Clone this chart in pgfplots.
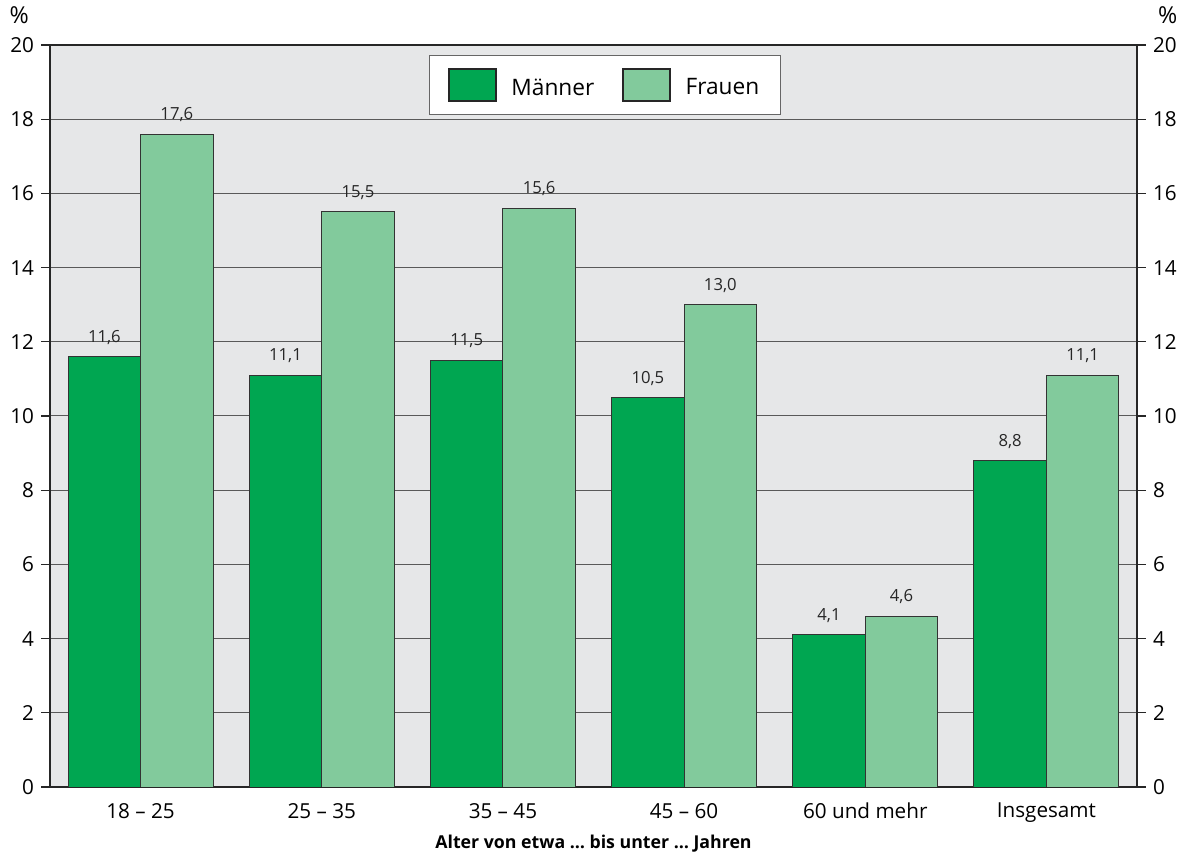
\documentclass[border=0pt]{standalone}
\usepackage{pgfplots}
\pgfplotsset{compat=1.18}
\usepackage{fontspec}
\setmainfont{Open Sans}
\definecolor{dgreen}{RGB}{0,166,81}
\definecolor{lgreen}{RGB}{130,202,156}
\definecolor{bggray}{RGB}{230,231,232}
\begin{document}
\begin{tikzpicture}
\begin{axis}[
  name=main,
  scale only axis, width=815.25pt, height=556.5pt,
  at={(0,0)}, anchor=south west,
  xmin=-0.5, xmax=5.5, ymin=0, ymax=20,
  axis background/.style={fill=bggray},
  axis line style={black!85, line width=0.8pt},
  ytick={0,2,...,20},
  ymajorgrids, grid style={black!65, line width=0.75pt},
  tick align=outside, major tick length=6.5pt,
  ytick pos=both, yticklabel pos=left,
  ytick style={black!85, line width=0.8pt},
  xtick={0,...,5}, xtick style={draw=none},
  xticklabels={18 -- 25, 25 -- 35, 35 -- 45, 45 -- 60, 60 und mehr, Insgesamt},
  /pgf/number format/assume math mode=true,
  /pgf/number format/.cd, use comma, fixed, fixed zerofill, precision=1, /pgfplots/.cd,
  yticklabel={\pgfmathprintnumber[fixed, precision=0]{\tick}},
  yticklabel style={font=\fontsize{15.5}{18}\selectfont, xshift=-2pt},
  xticklabel style={font=\fontsize{15.5}{18}\selectfont, yshift=-2pt},
  xlabel={\bfseries Alter von etwa \dots\ bis unter \dots\ Jahren},
  xlabel style={font=\fontsize{13.3}{15}\selectfont, yshift=-2pt},
  ybar, bar width=0.4,
  nodes near coords,
  every node near coord/.append style={font=\fontsize{12.5}{14}\selectfont, black!85, yshift=5.5pt},
  legend style={at={(0.5106,0.9865)}, anchor=north, legend columns=2,
    draw=black!60, fill=white, line width=0.8pt,
    font=\fontsize{17}{20}\selectfont, inner xsep=14pt, inner ysep=9.5pt,
    /tikz/every odd column/.append style={column sep=9pt},
    /tikz/every even column/.append style={column sep=19pt}},
  legend image code/.code={\draw[#1, draw=black!85, line width=1.5pt] (0pt,-10pt) rectangle (35pt,14pt);},
]
\addplot[fill=dgreen, draw=black!80, line width=0.7pt, bar shift=-0.2] coordinates {(0,11.6) (1,11.1) (2,11.5) (3,10.5) (4,4.1) (5,8.8)};
\addplot[fill=lgreen, draw=black!80, line width=0.7pt, bar shift=0.2] coordinates {(0,17.6) (1,15.5) (2,15.6) (3,13.0) (4,4.6) (5,11.1)};
\legend{M\"anner, Frauen}
\end{axis}
\begin{axis}[
  scale only axis, width=815.25pt, height=556.5pt,
  at={(0,0)}, anchor=south west,
  xmin=-0.5, xmax=5.5, ymin=0, ymax=20,
  axis x line=none, axis y line*=right,
  axis line style={black!85, line width=0.8pt},
  ytick={0,2,...,20},
  tick align=outside, major tick length=6.5pt,
  ytick style={black!85, line width=0.8pt},
  /pgf/number format/assume math mode=true,
  yticklabel style={font=\fontsize{15.5}{18}\selectfont, xshift=2pt},
]
\addplot[draw=none] coordinates {(0,0)};
\end{axis}
\node[font=\fontsize{17.5}{20}\selectfont, anchor=base] at ([xshift=-23pt,yshift=16pt]main.north west) {\%};
\node[font=\fontsize{17.5}{20}\selectfont, anchor=base] at ([xshift=23pt,yshift=16pt]main.north east) {\%};
\pgfresetboundingbox
\path[use as bounding box] (-37.5pt,-51.75pt) rectangle (856.5pt,590.25pt);
\end{tikzpicture}
\end{document}
